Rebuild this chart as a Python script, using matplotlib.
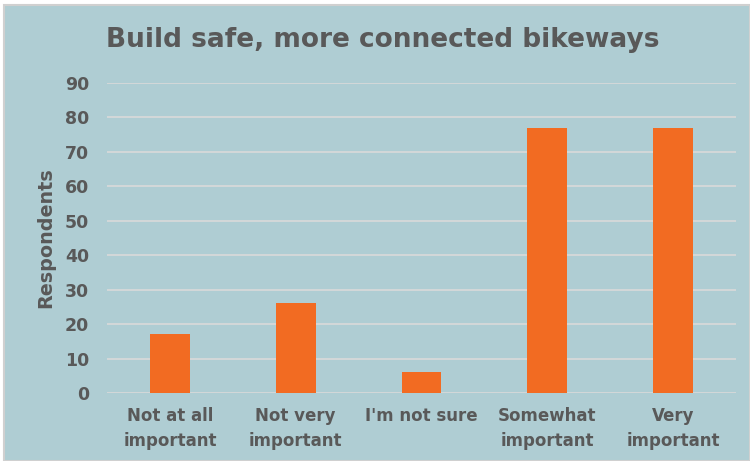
import matplotlib.pyplot as plt
from matplotlib.patches import Rectangle

categories = ["Not at all\nimportant", "Not very\nimportant", "I'm not sure",
              "Somewhat\nimportant", "Very\nimportant"]
respondents = [17, 26, 6, 77, 77]
yticks = [0, 10, 20, 30, 40, 50, 60, 70, 80, 90]

bg = "#afcdd3"
txt = "#595959"
bar_color = "#f26b22"

plt.rcParams['font.family'] = ['DejaVu Sans']

fig = plt.figure(figsize=(7.5, 4.61), dpi=100)
fig.patch.set_facecolor("white")
# panel background with thin gray border
fig.patches.append(Rectangle((4/750, 0), 1 - 4/750, 1 - 5/461, transform=fig.transFigure,
                             facecolor=bg, edgecolor="#d0d0d0", linewidth=1.5, zorder=-10))

ax = fig.add_axes([107/750, 1 - 393/461, 629/750, 310/461])
ax.set_facecolor("none")
ax.set_zorder(5)
x = range(len(categories))
ax.bar(x, respondents, width=0.315, color=bar_color, zorder=3)

ax.set_xlim(-0.5, 4.5)
ax.set_ylim(0, 90)
ax.set_yticks(yticks)
ax.grid(axis='y', color="#d6d9d9", linewidth=1.3, zorder=0)
ax.set_xticks(list(x))
ax.set_xticklabels(categories, fontsize=12, fontweight='bold', color=txt, linespacing=1.5)
ax.tick_params(axis='y', labelsize=12.5, labelcolor=txt, length=0, pad=13)
ax.tick_params(axis='x', length=0, pad=10)
for lab in ax.get_yticklabels():
    lab.set_fontweight('bold')
for s in ax.spines.values():
    s.set_visible(False)

ax.set_ylabel("Respondents", fontsize=13.8, fontweight='bold', color=txt, labelpad=7)

fig.text(383/750, 1 - 40/461, "Build safe, more connected bikeways", ha='center', va='center',
         fontsize=19, fontweight='bold', color=txt)

fig.savefig("out.png", dpi=100, facecolor=fig.get_facecolor())
